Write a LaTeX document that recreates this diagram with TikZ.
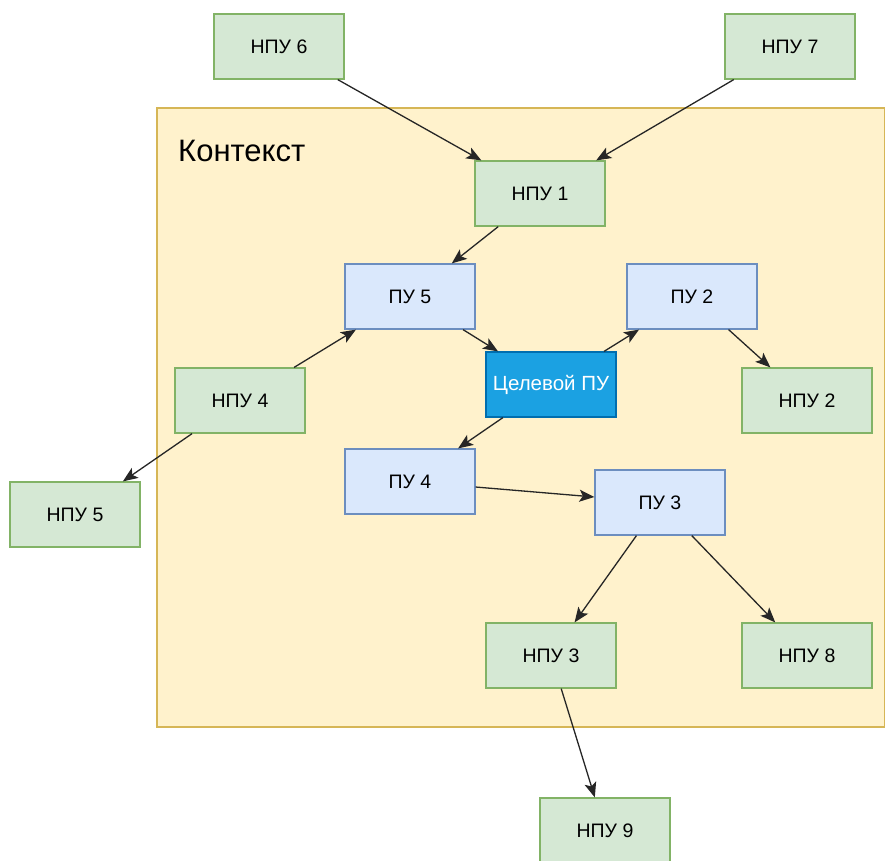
\documentclass[tikz,border=0pt]{standalone}
\usepackage{fontspec}
\setmainfont{Liberation Sans}
\usetikzlibrary{arrows.meta}
\definecolor{npufill}{HTML}{D5E8D4}\definecolor{npuline}{HTML}{82B366}
\definecolor{pufill}{HTML}{DAE8FC}\definecolor{puline}{HTML}{6C8EBF}
\definecolor{goalfill}{HTML}{1BA1E2}\definecolor{goalline}{HTML}{006EAF}
\definecolor{ctxfill}{HTML}{FFF2CC}\definecolor{ctxline}{HTML}{D6B656}
\begin{document}
\begin{tikzpicture}[x=1pt,y=-1pt,
  box/.style={minimum width=130pt,minimum height=65pt,inner sep=0pt,line width=1.2pt,
    font=\fontsize{19.5}{23}\selectfont},
  npu/.style={box,draw=npuline,fill=npufill},
  pu/.style={box,draw=puline,fill=pufill},
  goal/.style={box,draw=goalline,fill=goalfill,text=white,font=\fontsize{20.5}{24}\selectfont},
  link/.style={draw=black!85,line width=1.3pt,-{Stealth[length=15pt,width=12pt,inset=3.5pt]}}]
  \useasboundingbox (0,0) rectangle (885,860);
  % context area
  \filldraw[fill=ctxfill,draw=ctxline,line width=1.2pt] (157,108) rectangle (885,727);
  \node[anchor=west,inner sep=0pt,font=\fontsize{31}{36}\selectfont] (ctx) at (178,151) {Контекст};
  % nodes
  \node[npu] (n6) at (279,46.5) {НПУ 6};
  \node[npu] (n7) at (790,46.5) {НПУ 7};
  \node[npu] (n1) at (540,193.5) {НПУ 1};
  \node[pu] (p5) at (410,296.5) {ПУ 5};
  \node[pu] (p2) at (692,296.5) {ПУ 2};
  \node[goal] (t) at (551,384.5) {Целевой ПУ};
  \node[npu] (n4) at (240,400.5) {НПУ 4};
  \node[npu] (n2) at (807,400.5) {НПУ 2};
  \node[pu] (p4) at (410,481.5) {ПУ 4};
  \node[pu] (p3) at (660,502.5) {ПУ 3};
  \node[npu] (n5) at (75,514.5) {НПУ 5};
  \node[npu] (n3) at (551,655.5) {НПУ 3};
  \node[npu] (n8) at (807,655.5) {НПУ 8};
  \node[npu] (n9) at (605,830.5) {НПУ 9};
  % links
  \draw[link] (n6) -- (n1);
  \draw[link] (n7) -- (n1);
  \draw[link] (n1) -- (p5);
  \draw[link] (n4) -- (p5);
  \draw[link] (p5) -- (t);
  \draw[link] (t) -- (p2);
  \draw[link] (p2) -- (n2);
  \draw[link] (t) -- (p4);
  \draw[link] (n4) -- (n5);
  \draw[link] (p4) -- (p3);
  \draw[link] (p3) -- (n3);
  \draw[link] (p3) -- (n8);
  \draw[link] (n3) -- (n9);
\end{tikzpicture}
\end{document}
